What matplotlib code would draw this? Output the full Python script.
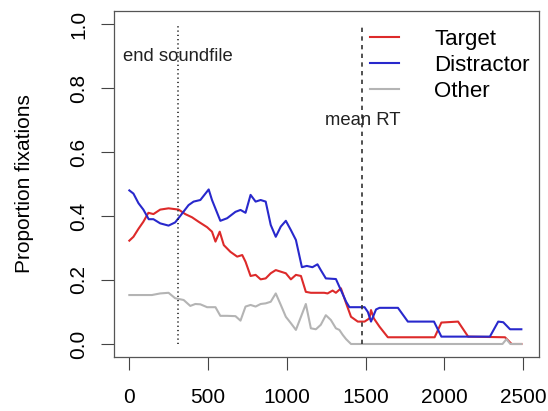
import numpy as np
import matplotlib.pyplot as plt

plt.rcParams['font.family'] = ['Liberation Sans', 'DejaVu Sans']

# time (ms) and proportion of fixations
t_target = [0, 26, 58, 89, 121, 153, 196, 249, 313, 355, 398, 440, 494, 525, 547, 574, 600, 642,
            685, 717, 738, 770, 802, 834, 866, 898, 930, 962, 994, 1026, 1058, 1090, 1121, 1153,
            1238, 1259, 1291, 1312, 1344, 1377, 1408, 1451, 1494, 1525, 1535, 1553, 1589, 1642,
            1939, 1982, 2088, 2152, 2386, 2428, 2490]
target = [.323, .335, .36, .382, .41, .406, .42, .424, .42, .406, .396, .382, .365, .351, .32, .351,
          .309, .288, .273, .278, .257, .2125, .216, .202, .205, .221, .231, .226, .221, .202, .216,
          .2125, .163, .16, .16, .158, .167, .16, .174, .127, .085, .07, .07, .08, .106, .08, .054,
          .021, .021, .067, .07, .023, .021, 0, 0]

t_distr = [0, 26, 58, 89, 123, 153, 196, 249, 291, 323, 376, 408, 451, 504, 525, 578, 621, 674,
           706, 738, 770, 802, 834, 866, 898, 930, 962, 994, 1026, 1058, 1096, 1127, 1163, 1195,
           1216, 1248, 1312, 1334, 1377, 1398, 1494, 1515, 1535, 1567, 1589, 1706, 1769, 1935,
           1982, 2290, 2343, 2375, 2418, 2490]
distr = [.48, .47, .44, .42, .39, .39, .377, .37, .38, .40, .434, .445, .45, .483, .45, .385, .393,
         .413, .419, .41, .466, .445, .45, .445, .372, .335, .367, .385, .356, .325, .24, .244, .24,
         .249, .231, .205, .203, .179, .132, .115, .115, .10, .07, .108, .113, .113, .07, .07, .023,
         .023, .07, .068, .046, .046]

t_other = [0, 143, 196, 249, 291, 345, 387, 419, 451, 494, 547, 578, 621, 674, 706, 738, 770, 802,
           834, 866, 898, 930, 962, 994, 1026, 1058, 1090, 1121, 1153, 1185, 1216, 1248, 1280, 1312,
           1334, 1356, 1377, 1408, 2370, 2395, 2420, 2490]
other = [.153, .153, .158, .16, .143, .1375, .119, .125, .124, .115, .115, .088, .088, .087, .073,
         .117, .122, .117, .125, .127, .132, .158, .122, .085, .065, .044, .085, .125, .049, .046,
         .06, .09, .075, .049, .044, .028, .015, 0, 0, .015, 0, 0]

end_soundfile = 311
mean_rt = 1480

fig = plt.figure(figsize=(5.48, 4.11), dpi=100)
ax = fig.add_axes([0.2073, 0.1319, 0.9830 - 0.2073, 0.9727 - 0.1319])

ax.plot(t_target, target, color='#dd2a2a', lw=1.5, label='Target')
ax.plot(t_distr, distr, color='#2828cc', lw=1.5, label='Distractor')
ax.plot(t_other, other, color='#b4b4b4', lw=1.5, label='Other')

ax.plot([end_soundfile, end_soundfile], [0, 1], color='#111111', lw=1.1, linestyle=(0, (0.8, 2.0)))
ax.plot([mean_rt, mean_rt], [0, 1], color='#333333', lw=1.2, linestyle=(0, (2.6, 2.6)))
ax.text(end_soundfile, 0.9, 'end soundfile', ha='center', va='center', fontsize=13.3, color='#222222')
ax.text(mean_rt, 0.7, 'mean RT', ha='center', va='center', fontsize=13.3, color='#222222')

ax.set_xlim(-100, 2600)
ax.set_ylim(-0.04, 1.04)
ax.set_xticks([0, 500, 1000, 1500, 2000, 2500])
ax.set_yticks([0, 0.2, 0.4, 0.6, 0.8, 1.0])
ax.set_yticklabels(['0.0', '0.2', '0.4', '0.6', '0.8', '1.0'], rotation=90, va='center')
ax.tick_params(axis='x', length=9.5, width=0.8, color='#444444', pad=13, labelsize=15)
ax.tick_params(axis='y', length=9.5, width=0.8, color='#444444', pad=9, labelsize=15)
for s in ax.spines.values():
    s.set_color('#555555')
    s.set_linewidth(0.9)

fig.text(25 / 548, 1 - 184 / 411, 'Proportion fixations', rotation=90, ha='center', va='center',
         fontsize=15)

leg = ax.legend(loc='upper left', bbox_to_anchor=(370 / 548, 1 - 29 / 411),
                bbox_transform=fig.transFigure, frameon=False, fontsize=16,
                borderpad=0, borderaxespad=0, handlelength=1.3, handletextpad=1.6,
                labelspacing=0.22)

fig.savefig('out.png', dpi=100)
